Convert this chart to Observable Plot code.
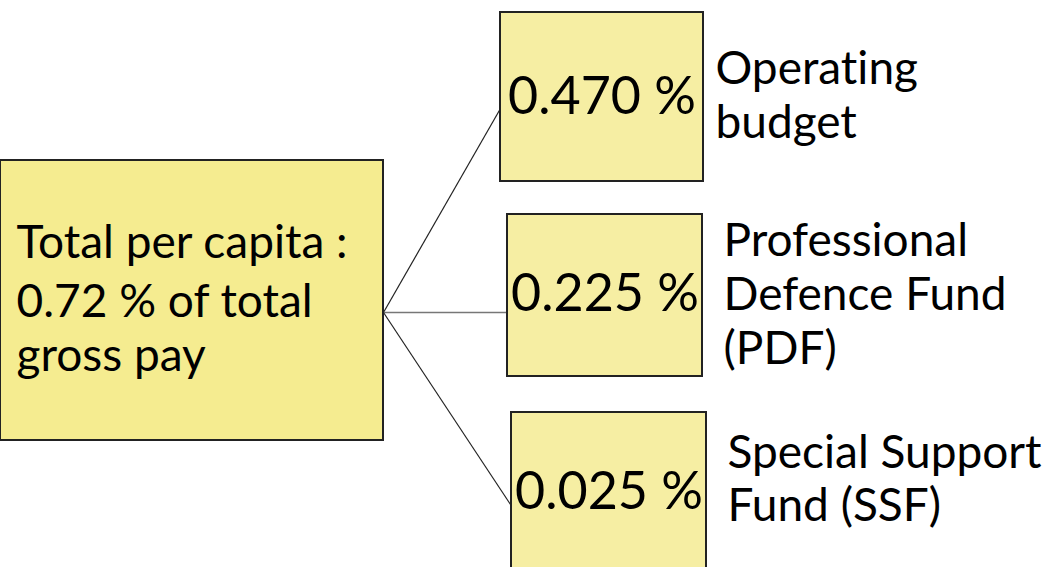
<!DOCTYPE html>
<html>
<head>
<meta charset="utf-8">
<script src="https://cdn.jsdelivr.net/npm/d3@7"></script>
<script src="https://cdn.jsdelivr.net/npm/@observablehq/plot@0.6"></script>
<style>
  html, body { margin: 0; padding: 0; background: #fff; }
  #chart svg { display: block; }
  #chart svg text { font-variant-ligatures: none; font-feature-settings: "liga" 0; }
</style>
</head>
<body>
<div id="chart"></div>
<script>
// ---- content ----
const totalLines = ["Total per capita :", "0.72 % of total", "gross pay"];
const shares = ["0.470 %", "0.225 %", "0.025 %"];
const fundLabels = [
  ["Operating", "budget"],
  ["Professional", "Defence Fund", "(PDF)"],
  ["Special Support", "Fund (SSF)"]
];

// ---- layout (diagram geometry, pixel space) ----
const W = 1058, H = 567;
const totalBox = {x1: 0, x2: 383, y1: 160, y2: 440};
const totalLineBase = [257, 316, 370];
const totalTextX = 16;
const shareBoxes = [
  {x1: 500, x2: 703, y1: 12, y2: 181},
  {x1: 507, x2: 702, y1: 214, y2: 376},
  {x1: 511, x2: 706, y1: 412, y2: 585}
];
const shareBase = [113, 310, 508];
const linkEnds = [{x: 500, y: 108}, {x: 507, y: 312}, {x: 510, y: 504}];
const linkStart = {x: 383, y: 312};
const labelX = [715, 723, 727];
const labelBase = [[83, 137], [255, 309, 363], [467, 520]];

const FONT = "Lato, 'Noto Sans', sans-serif";

const shareRows = shares.map((s, i) => ({text: s, ...shareBoxes[i], base: shareBase[i]}));
const labelRows = fundLabels.flatMap((lines, i) =>
  lines.map((t, j) => ({text: t, x: labelX[i], y: labelBase[i][j]})));
const totalRows = totalLines.map((t, j) => ({text: t, x: totalTextX, y: totalLineBase[j]}));
const links = linkEnds.map((e, i) => ({x1: linkStart.x, y1: linkStart.y, x2: e.x, y2: e.y, i}));

const chart = Plot.plot({
  width: W,
  height: H,
  margin: 0,
  x: {domain: [0, W], range: [0, W], axis: null},
  y: {domain: [0, H], range: [0, H], axis: null},
  style: {fontFamily: FONT, background: "#fff"},
  marks: [
    Plot.link(links, {
      x1: "x1", y1: "y1", x2: "x2", y2: "y2",
      stroke: d => d.i === 1 ? "#777" : "#222",
      strokeWidth: d => d.i === 1 ? 1.6 : 1.2
    }),
    Plot.rect([totalBox], {
      x1: "x1", x2: "x2", y1: "y1", y2: "y2",
      fill: "#f5ec90", stroke: "#222", strokeWidth: 2
    }),
    Plot.rect(shareRows, {
      x1: "x1", x2: "x2", y1: "y1", y2: "y2",
      fill: "#f6eea3", stroke: "#222", strokeWidth: 2
    }),
    Plot.text(totalRows, {
      x: "x", y: "y", text: "text",
      textAnchor: "start", lineAnchor: "bottom",
      fontSize: 46, fill: "#000"
    }),
    Plot.text(shareRows, {
      x: d => (d.x1 + d.x2) / 2, y: "base", text: "text",
      textAnchor: "middle", lineAnchor: "bottom",
      fontSize: 52, fill: "#000"
    }),
    Plot.text(labelRows, {
      x: "x", y: "y", text: "text",
      textAnchor: "start", lineAnchor: "bottom",
      fontSize: 46, fill: "#000"
    })
  ]
});
document.getElementById("chart").appendChild(chart);
</script>
</body>
</html>
